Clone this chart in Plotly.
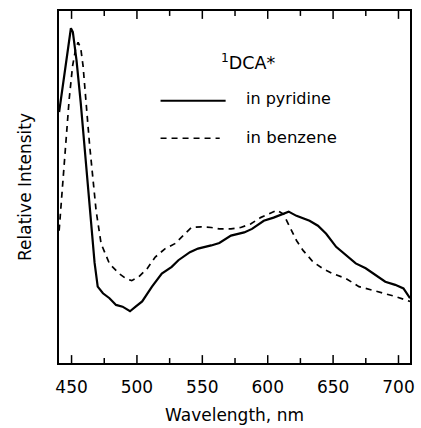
import plotly.graph_objects as go

# pyridine (solid)
wl_pyr = [440.5, 443, 445, 447, 449.5, 451, 453.8, 457, 460, 463.8, 467.6, 470, 474, 479, 484, 489,
          494.7, 499, 504, 511.5, 519, 526.6, 531.7, 540.5, 546.7, 556.8, 563, 571.9, 582, 588,
          597, 604.5, 610.8, 616, 622, 632, 638.4, 644.7, 652.3, 658.5, 667.3, 674.9, 682.4,
          689.9, 697.5, 703.8, 708.8]
int_pyr = [0.713, 0.78, 0.834, 0.895, 0.951, 0.94, 0.86, 0.74, 0.61, 0.45, 0.285, 0.217, 0.198, 0.184,
           0.165, 0.16, 0.147, 0.16, 0.175, 0.217, 0.254, 0.273, 0.292, 0.315, 0.325, 0.334, 0.341,
           0.362, 0.371, 0.381, 0.404, 0.413, 0.423, 0.43, 0.418, 0.404, 0.39, 0.367, 0.33, 0.311,
           0.283, 0.269, 0.25, 0.231, 0.222, 0.212, 0.184]

# benzene (dashed)
wl_benz = [440.5, 442, 443.7, 445.7, 448.2, 450.8, 453, 455, 457, 458.8, 461, 463.8, 468.8, 472.6, 479,
           486.4, 491.5, 496, 501.5, 507.8, 514, 521.6, 529, 536.7, 541.7, 549.2, 556.8, 563, 571.9,
           579.4, 586.9, 594.5, 602, 607, 612, 617, 622, 627, 634.7, 642.2, 649.7, 659.8, 669.8,
           679.9, 689.9, 697.5, 708.8]
int_benz = [0.376, 0.45, 0.53, 0.629, 0.75, 0.844, 0.89, 0.911, 0.895, 0.844, 0.74, 0.619, 0.432, 0.339,
            0.282, 0.254, 0.24, 0.234, 0.245, 0.268, 0.301, 0.325, 0.339, 0.367, 0.385, 0.387, 0.385,
            0.381, 0.381, 0.385, 0.395, 0.413, 0.427, 0.434, 0.423, 0.385, 0.348, 0.32, 0.287, 0.268,
            0.254, 0.24, 0.217, 0.207, 0.198, 0.189, 0.175]

major_ticks = [450, 500, 550, 600, 650, 700]
minor_ticks = [475, 525, 575, 625, 675]
tick_text = ["450", "500", "550", "600", "650", "700"]

FONT = "DejaVu Sans, Liberation Sans, Arial, sans-serif"
Y0, Y1 = 0, 1
PW, PH = 356, 357

fig = go.Figure()
fig.add_trace(go.Scatter(x=wl_pyr, y=int_pyr, mode="lines",
                         line=dict(color="black", width=2.2), showlegend=False, hoverinfo="skip"))
fig.add_trace(go.Scatter(x=wl_benz, y=int_benz, mode="lines",
                         line=dict(color="black", width=1.7, dash="6px,5px"), showlegend=False,
                         hoverinfo="skip"))

# inside tick marks on bottom and top frame (data-referenced shapes from the tick arrays)
for vals, ln in ((major_ticks, 8), (minor_ticks, 5)):
    d = (Y1 - Y0) * ln / PH
    for v in vals:
        fig.add_shape(type="line", xref="x", yref="y", x0=v, x1=v, y0=Y0, y1=Y0 + d,
                      line=dict(color="black", width=1.5), layer="above")
        fig.add_shape(type="line", xref="x", yref="y", x0=v, x1=v, y0=Y1, y1=Y1 - d,
                      line=dict(color="black", width=1.5), layer="above")

fig.add_shape(type="line", xref="paper", yref="paper", x0=(162-59)/PW, x1=(228-59)/PW,
              y0=(368-102)/PH, y1=(368-102)/PH, line=dict(color="black", width=2))
fig.add_shape(type="line", xref="paper", yref="paper", x0=(162-59)/PW, x1=(222-59)/PW,
              y0=(368-140)/PH, y1=(368-140)/PH, line=dict(color="black", width=1.6, dash="6px,5px"))
fig.add_annotation(text="<sup>1</sup>DCA*", xref="paper", yref="paper",
                   x=(221-59)/PW, y=(368-63)/PH, xanchor="left", yanchor="middle",
                   showarrow=False, font=dict(family=FONT, size=17.5, color="black"))
fig.add_annotation(text="in pyridine", xref="paper", yref="paper",
                   x=(247-59)/PW, y=(368-100)/PH, xanchor="left", yanchor="middle",
                   showarrow=False, font=dict(family=FONT, size=16, color="black"))
fig.add_annotation(text="in benzene", xref="paper", yref="paper",
                   x=(247-59)/PW, y=(368-139)/PH, xanchor="left", yanchor="middle",
                   showarrow=False, font=dict(family=FONT, size=16.5, color="black"))

fig.update_layout(
    width=421, height=428,
    margin=dict(l=59, r=6, t=11, b=60),
    paper_bgcolor="white", plot_bgcolor="white",
    font=dict(family=FONT, size=17, color="black"),
    xaxis=dict(range=[440.4, 708.8], tickmode="array", tickvals=major_ticks, ticktext=tick_text,
               ticks="", ticklabelstandoff=8,
               showline=True, linecolor="black", linewidth=1.5, mirror=True,
               showgrid=False, zeroline=False,
               title=dict(text="Wavelength, nm", font=dict(size=17), standoff=13),
               tickfont=dict(size=17)),
    yaxis=dict(range=[Y0, Y1], showticklabels=False, ticks="",
               showline=True, linecolor="black", linewidth=1.5, mirror=True,
               showgrid=False, zeroline=False,
               title=dict(text="Relative Intensity", font=dict(size=17), standoff=21)),
)

fig.write_html("out.html")
